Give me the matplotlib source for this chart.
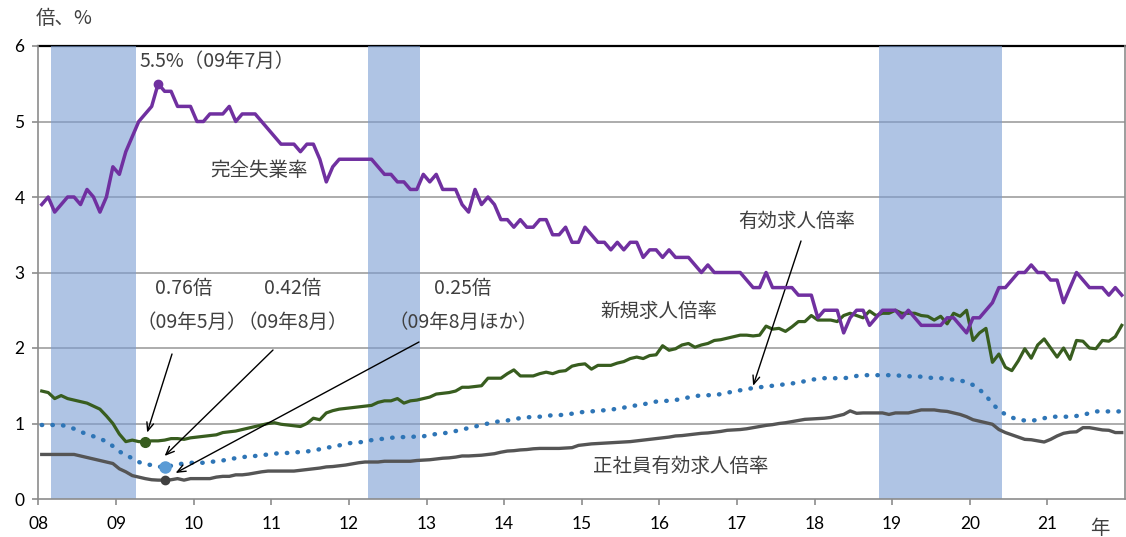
import numpy as np
import matplotlib.pyplot as plt

plt.rcParams['font.family'] = ['Noto Sans CJK JP', 'DejaVu Sans']

W, H = 1126, 537

#### data (monthly, Jan 2008 - Dec 2021)
years = ['08', '09', '10', '11', '12', '13', '14', '15', '16', '17', '18', '19', '20', '21']

unemp = [3.9, 4.0, 3.8, 3.9, 4.0, 4.0, 3.9, 4.1, 4.0, 3.8, 4.0, 4.4,
         4.3, 4.6, 4.8, 5.0, 5.1, 5.2, 5.5, 5.4, 5.4, 5.2, 5.2, 5.2,
         5.0, 5.0, 5.1, 5.1, 5.1, 5.2, 5.0, 5.1, 5.1, 5.1, 5.0, 4.9,
         4.8, 4.7, 4.7, 4.7, 4.6, 4.7, 4.7, 4.5, 4.2, 4.4, 4.5, 4.5,
         4.5, 4.5, 4.5, 4.5, 4.4, 4.3, 4.3, 4.2, 4.2, 4.1, 4.1, 4.3,
         4.2, 4.3, 4.1, 4.1, 4.1, 3.9, 3.8, 4.1, 3.9, 4.0, 3.9, 3.7,
         3.7, 3.6, 3.7, 3.6, 3.6, 3.7, 3.7, 3.5, 3.5, 3.6, 3.4, 3.4,
         3.6, 3.5, 3.4, 3.4, 3.3, 3.4, 3.3, 3.4, 3.4, 3.2, 3.3, 3.3,
         3.2, 3.3, 3.2, 3.2, 3.2, 3.1, 3.0, 3.1, 3.0, 3.0, 3.0, 3.0,
         3.0, 2.9, 2.8, 2.8, 3.0, 2.8, 2.8, 2.8, 2.8, 2.7, 2.7, 2.7,
         2.4, 2.5, 2.5, 2.5, 2.2, 2.4, 2.5, 2.5, 2.3, 2.4, 2.5, 2.5,
         2.5, 2.4, 2.5, 2.4, 2.3, 2.3, 2.3, 2.3, 2.4, 2.4, 2.3, 2.2,
         2.4, 2.4, 2.5, 2.6, 2.8, 2.8, 2.9, 3.0, 3.0, 3.1, 3.0, 3.0,
         2.9, 2.9, 2.6, 2.8, 3.0, 2.9, 2.8, 2.8, 2.8, 2.7, 2.8, 2.7]

yuko = [0.98, 0.98, 0.98, 0.98, 0.96, 0.93, 0.89, 0.86, 0.83, 0.80, 0.76, 0.70,
        0.63, 0.58, 0.54, 0.49, 0.46, 0.45, 0.43, 0.42, 0.44, 0.46, 0.47, 0.48,
        0.48, 0.48, 0.49, 0.50, 0.51, 0.53, 0.54, 0.55, 0.57, 0.57, 0.58, 0.59,
        0.60, 0.61, 0.61, 0.62, 0.62, 0.63, 0.64, 0.66, 0.68, 0.69, 0.71, 0.73,
        0.745, 0.75, 0.76, 0.78, 0.79, 0.80, 0.81, 0.82, 0.82, 0.82, 0.83, 0.83,
        0.85, 0.86, 0.87, 0.88, 0.90, 0.92, 0.94, 0.96, 0.98, 1.00, 1.02, 1.03,
        1.04, 1.06, 1.07, 1.08, 1.09, 1.09, 1.10, 1.11, 1.11, 1.12, 1.13, 1.145,
        1.155, 1.16, 1.17, 1.175, 1.18, 1.20, 1.21, 1.23, 1.24, 1.255, 1.27, 1.29,
        1.30, 1.30, 1.31, 1.33, 1.345, 1.36, 1.375, 1.375, 1.375, 1.39, 1.41, 1.42,
        1.44, 1.455, 1.47, 1.48, 1.49, 1.50, 1.51, 1.52, 1.53, 1.545, 1.56, 1.58,
        1.59, 1.60, 1.60, 1.60, 1.60, 1.61, 1.63, 1.64, 1.64, 1.64, 1.64, 1.64,
        1.64, 1.63, 1.625, 1.625, 1.62, 1.61, 1.60, 1.60, 1.59, 1.58, 1.57, 1.55,
        1.51, 1.45, 1.37, 1.26, 1.18, 1.12, 1.08, 1.05, 1.04, 1.035, 1.05, 1.07,
        1.09, 1.09, 1.09, 1.09, 1.10, 1.11, 1.14, 1.16, 1.16, 1.16, 1.16, 1.16]

shinki = [1.43, 1.41, 1.33, 1.37, 1.33, 1.31, 1.29, 1.27, 1.23, 1.19, 1.10, 1.00,
          0.86, 0.76, 0.78, 0.76, 0.76, 0.77, 0.77, 0.78, 0.80, 0.80, 0.79, 0.81,
          0.82, 0.83, 0.84, 0.85, 0.88, 0.89, 0.90, 0.92, 0.94, 0.96, 0.98, 1.00,
          1.01, 0.99, 0.98, 0.97, 0.96, 1.00, 1.07, 1.05, 1.14, 1.17, 1.19, 1.20,
          1.21, 1.22, 1.23, 1.24, 1.28, 1.30, 1.30, 1.33, 1.27, 1.30, 1.31, 1.33,
          1.35, 1.39, 1.40, 1.41, 1.43, 1.48, 1.48, 1.49, 1.50, 1.60, 1.60, 1.60,
          1.66, 1.71, 1.63, 1.63, 1.63, 1.66, 1.68, 1.66, 1.69, 1.70, 1.76, 1.78,
          1.79, 1.72, 1.77, 1.77, 1.77, 1.80, 1.82, 1.86, 1.88, 1.86, 1.90, 1.91,
          2.03, 1.97, 1.99, 2.04, 2.06, 2.01, 2.04, 2.06, 2.10, 2.11, 2.13, 2.15,
          2.17, 2.17, 2.16, 2.17, 2.29, 2.25, 2.26, 2.22, 2.28, 2.35, 2.35, 2.43,
          2.37, 2.37, 2.37, 2.35, 2.43, 2.46, 2.43, 2.40, 2.49, 2.43, 2.46, 2.46,
          2.50, 2.46, 2.46, 2.46, 2.43, 2.42, 2.37, 2.42, 2.32, 2.46, 2.42, 2.50,
          2.10, 2.20, 2.26, 1.81, 1.92, 1.745, 1.70, 1.83, 1.99, 1.865, 2.04, 2.12,
          2.00, 1.88, 2.00, 1.85, 2.10, 2.09, 2.00, 1.99, 2.10, 2.09, 2.15, 2.30]

seishain = [0.59, 0.59, 0.59, 0.59, 0.59, 0.59, 0.57, 0.55, 0.53, 0.51, 0.49, 0.47,
            0.40, 0.36, 0.31, 0.29, 0.27, 0.255, 0.25, 0.25, 0.255, 0.27, 0.25, 0.27,
            0.27, 0.27, 0.27, 0.29, 0.30, 0.30, 0.32, 0.32, 0.33, 0.345, 0.36, 0.37,
            0.37, 0.37, 0.37, 0.37, 0.38, 0.39, 0.40, 0.41, 0.425, 0.43, 0.44, 0.45,
            0.465, 0.48, 0.49, 0.49, 0.49, 0.50, 0.50, 0.50, 0.50, 0.50, 0.51, 0.515,
            0.52, 0.53, 0.54, 0.545, 0.555, 0.57, 0.57, 0.575, 0.58, 0.59, 0.60, 0.62,
            0.635, 0.64, 0.65, 0.655, 0.665, 0.67, 0.67, 0.67, 0.67, 0.675, 0.68, 0.71,
            0.72, 0.73, 0.735, 0.74, 0.745, 0.75, 0.755, 0.76, 0.77, 0.78, 0.79, 0.80,
            0.81, 0.82, 0.835, 0.84, 0.85, 0.86, 0.87, 0.875, 0.885, 0.895, 0.91, 0.915,
            0.92, 0.93, 0.945, 0.96, 0.975, 0.985, 1.00, 1.01, 1.025, 1.04, 1.055, 1.06,
            1.065, 1.07, 1.08, 1.10, 1.12, 1.167, 1.135, 1.14, 1.14, 1.14, 1.14, 1.12,
            1.14, 1.14, 1.14, 1.16, 1.18, 1.18, 1.18, 1.167, 1.16, 1.14, 1.12, 1.09,
            1.05, 1.03, 1.01, 0.99, 0.92, 0.88, 0.85, 0.82, 0.79, 0.785, 0.77, 0.755,
            0.79, 0.835, 0.87, 0.885, 0.89, 0.945, 0.945, 0.93, 0.915, 0.91, 0.88, 0.88]

# recession periods (first month, last month), month index from Jan 2008
rec_start = [2, 51, 130]
rec_end = [14, 58, 148]

#### plotting
x = np.arange(len(unemp)) + 0.5

purple = '#7030A0'
green = '#385D1F'
gray = '#555555'
blue = '#2E75B6'
txt = '#404040'

fig = plt.figure(figsize=(W / 100, H / 100), dpi=100)
ax = fig.add_axes([38.5 / W, 38 / H, 1086.5 / W, 453 / H])

for s, e in zip(rec_start, rec_end):
    ax.axvspan(s, e + 1, color='#7B9DD2', alpha=0.6, lw=0, zorder=1)

for v in range(1, 6):
    ax.axhline(v, color='#A6A6A6', lw=1.3, zorder=0.5)
ax.axhline(6, color='black', lw=1.6, zorder=0.6, clip_on=False)

ax.plot(x, seishain, color=gray, lw=2.4, zorder=3)
ax.plot(x, yuko, color=blue, lw=3.2, linestyle=(0, (0.1, 2.3)),
        dash_capstyle='round', zorder=3)
ax.plot(x, shinki, color=green, lw=2.3, zorder=3)
ax.plot(x, unemp, color=purple, lw=2.5, zorder=4)

# highlighted extremes
ax.plot(x[18], unemp[18], 'o', color=purple, ms=6, zorder=5)
ax.plot(x[16], shinki[16], 'o', color=green, ms=7, zorder=5)
ax.plot(x[19], yuko[19], 'o', color='#5B9BD5', ms=8, zorder=5)
ax.plot(x[19], seishain[19], 'o', color='#404040', ms=6, zorder=5)

ax.set_xlim(0, 168)
ax.set_ylim(0, 6)
ax.set_xticks(np.arange(0, 168, 12))
ax.set_xticklabels(years)
ax.set_yticks(range(0, 7))

ax.spines['top'].set_visible(False)
for sp in ['left', 'bottom', 'right']:
    ax.spines[sp].set_color('#8C8C8C')
    ax.spines[sp].set_linewidth(1.2)
ax.tick_params(axis='both', colors='#8C8C8C', length=4, width=1.2,
               labelcolor='black', labelsize=12.5)
ax.tick_params(axis='x', pad=8)
ax.tick_params(axis='y', pad=6)
for lab in ax.get_xticklabels() + ax.get_yticklabels():
    lab.set_family(['Lato', 'DejaVu Sans'])


def fp(px, py):
    return (px / W, 1 - py / H)


def label(s, px, py, size=14):
    fig.text(*fp(px, py), s, ha='center', va='center', fontsize=size, color=txt)


label('倍、%', 64, 18)
label('年', 1100, 528)
label('5.5%（09年7月）', 217, 61)
label('完全失業率', 259, 170)
label('有効求人倍率', 797, 221)
label('新規求人倍率', 659, 311)
label('正社員有効求人倍率', 681, 466)
label('0.76倍', 184, 289)
label('（09年5月）', 192, 322)
label('0.42倍', 293, 289)
label('（09年8月）', 293, 322)
label('0.25倍', 463, 289)
label('（09年8月ほか）', 463, 322)

arrow = dict(arrowstyle='->,head_length=0.6,head_width=0.25', color='black',
             lw=1, shrinkA=0, shrinkB=0)
ax.annotate('', xy=(x[16] + 0.3, shinki[16] + 0.12), xytext=fp(172, 354),
            textcoords='figure fraction', arrowprops=arrow)
ax.annotate('', xy=(x[19], yuko[19] + 0.15), xytext=fp(273, 350),
            textcoords='figure fraction', arrowprops=arrow)
ax.annotate('', xy=(x[20] + 0.7, seishain[20] + 0.09), xytext=fp(419, 342),
            textcoords='figure fraction', arrowprops=arrow)
ax.annotate('', xy=(x[110], yuko[110] + 0.03), xytext=fp(801, 241),
            textcoords='figure fraction', arrowprops=arrow)

fig.savefig('out.png', dpi=100)
